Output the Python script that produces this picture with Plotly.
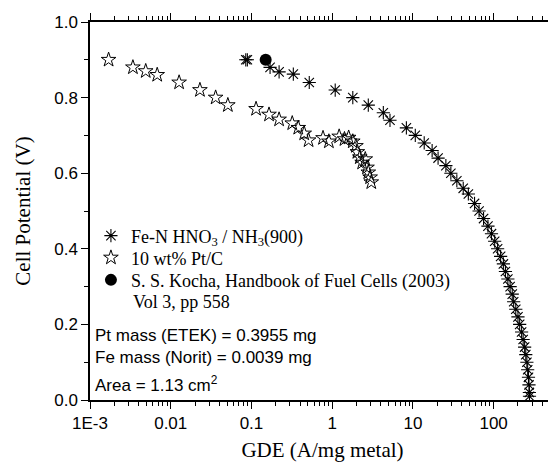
import plotly.graph_objects as go

# Fe-N HNO3 / NH3(900)
fen_x = [0.085, 0.089, 0.17, 0.22, 0.33, 0.52, 1.09, 1.8, 2.8, 4.3, 5.2, 8.3, 10.7, 13.8, 17.3, 20.5,
         25.6, 29.5, 35, 42, 48.6, 58, 66, 75, 85, 94, 103, 112, 122, 132, 140, 150, 160, 170,
         177, 188, 200, 210, 222, 232, 242, 250, 258, 264, 270, 274, 277, 278]
fen_y = [0.90, 0.90, 0.88, 0.868, 0.862, 0.84, 0.82, 0.80, 0.78, 0.76, 0.74, 0.72, 0.70, 0.68, 0.66, 0.64,
         0.62, 0.60, 0.58, 0.56, 0.545, 0.52, 0.50, 0.48, 0.46, 0.44, 0.42, 0.40, 0.38, 0.36, 0.34, 0.32,
         0.30, 0.28, 0.26, 0.24, 0.22, 0.20, 0.18, 0.16, 0.14, 0.12, 0.10, 0.08, 0.06, 0.04, 0.02, 0.01]

# 10 wt% Pt/C
pt_x = [0.0017, 0.0034, 0.0049, 0.0068, 0.0127, 0.023, 0.036, 0.051, 0.114, 0.165, 0.22, 0.32, 0.38,
        0.45, 0.51, 0.77, 0.91, 1.22, 1.42, 1.6, 1.8, 1.97, 2.05, 2.2, 2.35, 2.57, 2.7, 2.8, 2.95, 3.05]
pt_y = [0.90, 0.88, 0.87, 0.86, 0.84, 0.82, 0.80, 0.78, 0.77, 0.755, 0.742, 0.732, 0.72,
        0.705, 0.687, 0.693, 0.684, 0.697, 0.69, 0.694, 0.684, 0.672, 0.656, 0.642, 0.628, 0.637,
        0.615, 0.602, 0.589, 0.576]

# S. S. Kocha reference point
kocha_x = [0.15]
kocha_y = [0.90]

x_tickvals = [0.001, 0.01, 0.1, 1, 10, 100]
x_ticktext = ["1E-3", "0.01", "0.1", "1", "10", "100"]
y_tickvals = [0.0, 0.2, 0.4, 0.6, 0.8, 1.0]
y_ticktext = ["0.0", "0.2", "0.4", "0.6", "0.8", "1.0"]

serif = "Liberation Serif, Times New Roman, serif"
sans = "Liberation Sans, Arial, sans-serif"

fig = go.Figure()
fig.add_trace(go.Scatter(
    x=fen_x, y=fen_y, mode="markers", legend="legend",
    name="Fe-N HNO<sub>3</sub> / NH<sub>3</sub>(900)",
    marker=dict(symbol="asterisk-open", size=11, color="black",
                line=dict(color="black", width=1.1)),
))
fig.add_trace(go.Scatter(
    x=pt_x, y=pt_y, mode="markers", name="10 wt% Pt/C", legend="legend2",
    marker=dict(symbol="star-open", size=11, color="black",
                line=dict(color="black", width=1)),
))
fig.add_trace(go.Scatter(
    x=kocha_x, y=kocha_y, mode="markers", legend="legend3",
    name="S. S. Kocha, Handbook of Fuel Cells (2003)",
    marker=dict(symbol="circle", size=12, color="black"),
))

axis_common = dict(
    showline=True, linecolor="black", linewidth=1.5,
    ticks="outside", tickcolor="black", ticklen=7, tickwidth=1,
    showgrid=False, zeroline=False, automargin=False,
    tickfont=dict(family=sans, size=17, color="black"),
)

fig.update_xaxes(
    type="log", range=[-3, 2.76],
    tickvals=x_tickvals, ticktext=x_ticktext,
    mirror="ticks",
    minor=dict(ticks="outside", ticklen=4, tickcolor="black", dtick="D1", showgrid=False),
    title=dict(text="GDE (A/mg metal)", font=dict(family=serif, size=21, color="black"), standoff=10),
    **axis_common,
)
fig.update_yaxes(
    range=[0, 1.0],
    tickvals=y_tickvals, ticktext=y_ticktext,
    mirror=True,
    minor=dict(ticks="outside", ticklen=4, tickcolor="black", dtick=0.1, showgrid=False),
    title=dict(text="Cell Potential (V)", font=dict(family=serif, size=21, color="black"), standoff=18),
    **axis_common,
)

leg_common = dict(
    xanchor="left", yanchor="middle",
    bgcolor="rgba(0,0,0,0)", borderwidth=0,
    font=dict(family=serif, size=18, color="black"),
    itemsizing="trace",
)

# page body has an 8px default margin; figure sized so it fills the 556x462 window
fig.update_layout(
    width=548, height=454,
    margin=dict(l=82, r=1, t=14, b=62),
    paper_bgcolor="white", plot_bgcolor="white",
    showlegend=True,
    legend=dict(x=0.002, y=0.434, **leg_common),
    legend2=dict(x=0.002, y=0.376, **leg_common),
    legend3=dict(x=0.002, y=0.317, **leg_common),
    annotations=[
        dict(text="Vol 3, pp 558", xref="paper", yref="paper", x=0.088, y=0.259,
             xanchor="left", yanchor="middle", showarrow=False,
             font=dict(family=serif, size=18, color="black")),
        dict(text="Pt mass (ETEK) = 0.3955 mg", xref="paper", yref="paper", x=0.006, y=0.170,
             xanchor="left", yanchor="middle", showarrow=False,
             font=dict(family=sans, size=17, color="black")),
        dict(text="Fe mass (Norit) = 0.0039 mg", xref="paper", yref="paper", x=0.006, y=0.112,
             xanchor="left", yanchor="middle", showarrow=False,
             font=dict(family=sans, size=17, color="black")),
        dict(text="Area = 1.13 cm<sup>2</sup>", xref="paper", yref="paper", x=0.006, y=0.043,
             xanchor="left", yanchor="middle", showarrow=False,
             font=dict(family=sans, size=17, color="black")),
    ],
)

fig.write_html("out.html")
